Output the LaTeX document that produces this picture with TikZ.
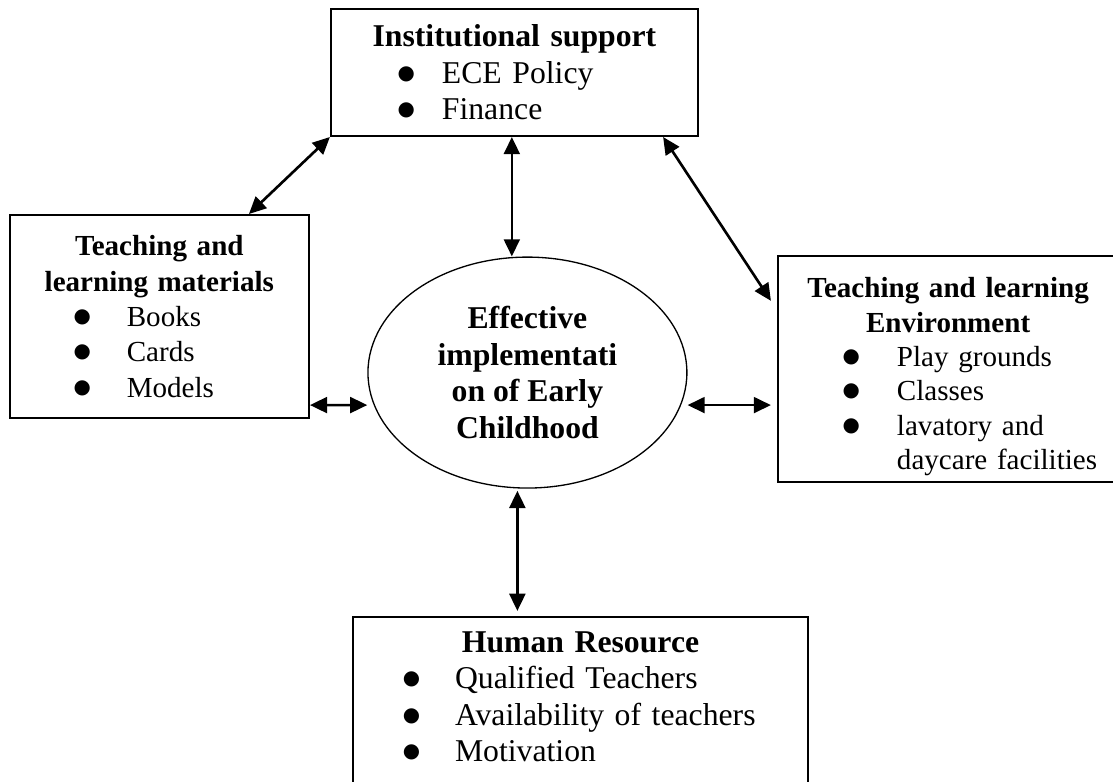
\documentclass[tikz,border=0pt]{standalone}
\usepackage{fontspec}
\setmainfont{Liberation Serif}
\newfontfamily\symfont{DejaVu Sans}
\usepackage{enumitem}
\usetikzlibrary{arrows.meta,shapes.geometric}
\newcommand{\dotlabel}{\raisebox{1.5pt}{\fontsize{7.5}{7.5}\symfont ●}}
\setlist[itemize]{label=\dotlabel, nosep}
\tikzstyle{box} = [rectangle, draw=black, line width=0.8pt, inner xsep=0pt, inner ysep=0pt, font=\fontsize{12}{13.8}\selectfont]
\tikzstyle{oval} = [ellipse, draw=black, line width=0.5pt, inner sep=0pt, align=center, font=\fontsize{12}{13.8}\selectfont\bfseries]

\begin{document}
\begin{tikzpicture}[>={Triangle[length=6.5pt,width=6pt]}]
	\clip (-194.7pt,27.4pt) rectangle (226.5pt,-268.5pt);
	\node[box, text width=138.9pt, minimum height=48.1pt] (inst) {{\centering\bfseries Institutional support\par}
		\begin{itemize}[leftmargin=42pt, labelsep=10.2pt]
			\item ECE Policy
			\item Finance
		\end{itemize}};
	\node[box, font=\fontsize{11}{13.4}\selectfont, text width=113.2pt, minimum height=76.8pt] at ([xshift=-134.4pt, yshift=-92.4pt]inst) (tlm) {{\centering\bfseries Teaching and\\learning materials\par}
		\begin{itemize}[leftmargin=44.3pt, labelsep=13.6pt]
			\item Books
			\item Cards
			\item Models
		\end{itemize}};
	\node[oval, minimum width=120.7pt, minimum height=87.4pt] at ([xshift=4.9pt, yshift=-113.6pt]inst) (ece) {Effective\\implementati\\on of Early\\Childhood};
	% text sits low in this box, pull the bottom in
	\node[box, font=\fontsize{11}{13}\selectfont, text width=128.7pt, minimum height=85.5pt] at ([xshift=164.1pt, yshift=-112.2pt]inst) (tle) {{\centering\bfseries Teaching and learning\\Environment\par}
		\begin{itemize}[leftmargin=45pt, labelsep=14pt]
			\item Play grounds
			\item Classes
			\item lavatory and\\daycare facilities
		\end{itemize}\par\vspace*{-6pt}\hrule height 0pt};
	% text sits high in this box, pad the bottom
	\node[box, text width=172.2pt, minimum height=67.4pt] at ([xshift=25pt, yshift=-239.8pt]inst) (hr) {{\centering\bfseries Human Resource\par}
		\begin{itemize}[leftmargin=38.6pt, labelsep=13.2pt]
			\item Qualified Teachers
			\item Availability of teachers
			\item Motivation
		\end{itemize}\par\vspace*{7pt}\hrule height 0pt};

	% arrow ends that sit off the anchors
	\coordinate (tlm top) at ([xshift=-23.1pt]tlm.north east);
	\coordinate (inst bot) at ([xshift=-1pt]inst.south);
	\coordinate (ece top) at (inst bot |- ece.north);
	\coordinate (inst br) at ([xshift=-13.6pt]inst.south east);
	\coordinate (tle tl) at ([xshift=-2.3pt, yshift=-17.4pt]tle.north west);
	\coordinate (tlm r) at ([yshift=-33.5pt]tlm.east);
	\coordinate (ece l) at ([yshift=-12.3pt]ece.west);
	\coordinate (ece r) at ([yshift=-12.3pt]ece.east);
	\coordinate (tle l) at ([xshift=-2.3pt]ece r -| tle.west);
	\coordinate (ece bot) at ([xshift=-3.8pt, yshift=-0.8pt]ece.south);
	\coordinate (hr top) at ([yshift=1.9pt]ece bot |- hr.north);

	\foreach \a\b in {inst.south west/tlm top, inst bot/ece top, inst br/tle tl,
		tlm r/ece l, ece r/tle l, ece bot/hr top}{
		\draw[<->, line width=1pt] (\a) -- (\b);
	}
\end{tikzpicture}
\end{document}
